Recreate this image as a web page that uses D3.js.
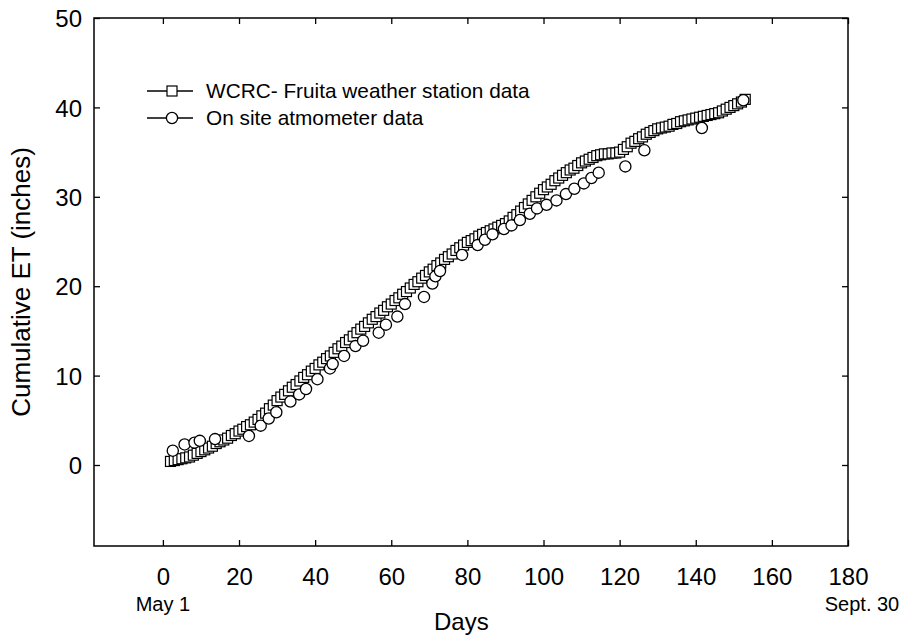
<!DOCTYPE html>
<html>
<head>
<meta charset="utf-8">
<script src="https://cdn.jsdelivr.net/npm/d3@7"></script>
<style>
  body { margin: 0; background: #fff; }
  text { font-family: Arial, "Liberation Sans", sans-serif; fill: #000; }
</style>
</head>
<body>
<div id="chart"></div>
<script>
// Chart size
const w = 901;
const h = 637;
const margin = { top: 18, right: 53, bottom: 91, left: 94 };

// WCRC - Fruita weather station, one value per day (cumulative inches)
const wcrcDays = [
  2, 3, 4, 5, 6, 7, 8, 9, 10, 11, 12, 13, 14, 15, 16, 17, 18, 19, 20,
  21, 22, 23, 24, 25, 26, 27, 28, 29, 30, 31, 32, 33, 34, 35, 36, 37, 38, 39, 40,
  41, 42, 43, 44, 45, 46, 47, 48, 49, 50, 51, 52, 53, 54, 55, 56, 57, 58, 59, 60,
  61, 62, 63, 64, 65, 66, 67, 68, 69, 70, 71, 72, 73, 74, 75, 76, 77, 78, 79, 80,
  81, 82, 83, 84, 85, 86, 87, 88, 89, 90, 91, 92, 93, 94, 95, 96, 97, 98, 99, 100,
  101, 102, 103, 104, 105, 106, 107, 108, 109, 110, 111, 112, 113, 114, 115, 116, 117, 118, 119, 120,
  121, 122, 123, 124, 125, 126, 127, 128, 129, 130, 131, 132, 133, 134, 135, 136, 137, 138, 139, 140,
  141, 142, 143, 144, 145, 146, 147, 148, 149, 150, 151, 152, 153
];
const wcrcET = [
  0.4, 0.5, 0.6, 0.7, 0.8, 0.9, 1.1, 1.3, 1.5, 1.7, 1.9, 2.1, 2.4, 2.6, 2.8, 3.0, 3.3, 3.5, 3.8,
  4.0, 4.3, 4.5, 4.8, 5.1, 5.5, 5.8, 6.3, 6.7, 7.2, 7.6, 7.9, 8.3, 8.7, 9.0, 9.4, 9.8, 10.1, 10.5, 10.8,
  11.2, 11.5, 11.9, 12.2, 12.6, 13.0, 13.3, 13.7, 14.0, 14.4, 14.8, 15.2, 15.5, 15.9, 16.3, 16.6, 17.0, 17.3, 17.7, 18.0,
  18.4, 18.7, 19.1, 19.4, 19.8, 20.2, 20.5, 20.9, 21.2, 21.6, 21.9, 22.3, 22.6, 23.0, 23.3, 23.6, 24.0, 24.3, 24.6, 24.9,
  25.1, 25.3, 25.6, 25.8, 26.0, 26.2, 26.4, 26.6, 26.8, 27.0, 27.3, 27.7, 28.0, 28.4, 28.8, 29.2, 29.6, 30.0, 30.4, 30.8,
  31.1, 31.4, 31.8, 32.1, 32.4, 32.7, 33.0, 33.2, 33.5, 33.8, 34.0, 34.2, 34.4, 34.6, 34.7, 34.8, 34.8, 34.9, 34.9, 35.0,
  35.3, 35.6, 36.0, 36.2, 36.5, 36.7, 37.0, 37.2, 37.4, 37.6, 37.7, 37.8, 37.9, 38.1, 38.2, 38.4, 38.5, 38.6, 38.7, 38.8,
  38.9, 39.0, 39.1, 39.2, 39.3, 39.4, 39.6, 39.8, 40.0, 40.2, 40.4, 40.6, 40.9
];

// On site atmometer readings
const atmoDays = [
  2.6, 5.7, 8.3, 9.7, 13.7, 22.6, 25.7, 27.8, 29.8, 33.5, 35.8, 37.6, 40.6, 43.9, 44.6,
  47.6, 50.6, 52.6, 56.7, 58.6, 61.6, 63.6, 68.6, 70.8, 71.6, 72.8, 78.6, 82.7, 84.6,
  86.6, 89.6, 91.6, 93.8, 96.4, 98.3, 100.8, 103.4, 105.9, 108.1, 110.6, 112.6, 114.5,
  121.5, 126.5, 141.6, 152.5
];
const atmoET = [
  1.6, 2.3, 2.5, 2.7, 2.9, 3.25, 4.4, 5.2, 5.9, 7.1, 7.9, 8.5, 9.6, 10.8, 11.3,
  12.2, 13.3, 13.9, 14.8, 15.7, 16.6, 18.0, 18.8, 20.3, 21.1, 21.7, 23.5, 24.6, 25.2,
  25.8, 26.4, 26.8, 27.4, 28.1, 28.7, 29.1, 29.6, 30.3, 30.9, 31.5, 32.1, 32.7,
  33.4, 35.2, 37.7, 40.8
];

// Axis ticks and labels
const xTicks = [0, 20, 40, 60, 80, 100, 120, 140, 160, 180];
const yTicks = [0, 10, 20, 30, 40, 50];
const seriesNames = ["WCRC- Fruita weather station data", "On site atmometer data"];

const iw = w - margin.left - margin.right;
const ih = h - margin.top - margin.bottom;

const svg = d3.select("#chart")
  .append("svg")
  .attr("width", w)
  .attr("height", h);

const g = svg.append("g")
  .attr("transform", `translate(${margin.left},${margin.top})`);

// Scales
const xScale = d3.scaleLinear().domain([-18.1, 180]).range([0, iw]);
const yScale = d3.scaleLinear().domain([-9.06, 50]).range([ih, 0]);

// Axes, ticks pointing inward on every side
const bottomAxis = g.append("g")
  .attr("transform", `translate(0,${ih})`)
  .call(d3.axisBottom(xScale).tickValues(xTicks).tickSize(-6).tickPadding(22));
const topAxis = g.append("g")
  .call(d3.axisTop(xScale).tickValues(xTicks).tickSize(-6).tickFormat(""));
const leftAxis = g.append("g")
  .call(d3.axisLeft(yScale).tickValues(yTicks).tickSize(-6).tickPadding(12));
const rightAxis = g.append("g")
  .attr("transform", `translate(${iw},0)`)
  .call(d3.axisRight(yScale).tickValues(yTicks).tickSize(-6).tickFormat(""));

[bottomAxis, topAxis, leftAxis, rightAxis].forEach(a => {
  a.select(".domain").remove();
  a.selectAll("line").attr("stroke", "#000").attr("stroke-width", 1.3);
});
bottomAxis.selectAll("text").attr("font-size", "24px").attr("font-family", "Arial, 'Liberation Sans', sans-serif");
leftAxis.selectAll("text").attr("font-size", "24px").attr("font-family", "Arial, 'Liberation Sans', sans-serif")
  .attr("dy", "0.36em");

// Frame
g.append("rect")
  .attr("width", iw)
  .attr("height", ih)
  .attr("fill", "none")
  .attr("stroke", "#000")
  .attr("stroke-width", 1.5);

// WCRC squares
const wcrc = wcrcDays.map((d, i) => ({ day: d, et: wcrcET[i] }));
g.selectAll("rect.sq")
  .data(wcrc)
  .enter()
  .append("rect")
  .attr("class", "sq")
  .attr("x", d => xScale(d.day) - 5)
  .attr("y", d => yScale(d.et) - 5)
  .attr("width", 10)
  .attr("height", 10)
  .attr("fill", "#fff")
  .attr("stroke", "#000")
  .attr("stroke-width", 1.2);

// Atmometer circles
const atmo = atmoDays.map((d, i) => ({ day: d, et: atmoET[i] }));
g.selectAll("circle.pt")
  .data(atmo)
  .enter()
  .append("circle")
  .attr("class", "pt")
  .attr("cx", d => xScale(d.day))
  .attr("cy", d => yScale(d.et))
  .attr("r", 5.6)
  .attr("fill", "#fff")
  .attr("stroke", "#000")
  .attr("stroke-width", 1.3);

// Legend
const legend = svg.append("g");
const rows = [{ y: 91, shape: "square" }, { y: 118, shape: "circle" }];
rows.forEach((r, i) => {
  legend.append("line")
    .attr("x1", 147).attr("x2", 193)
    .attr("y1", r.y).attr("y2", r.y)
    .attr("stroke", "#000").attr("stroke-width", 1.3);
  if (r.shape === "square") {
    legend.append("rect")
      .attr("x", 167).attr("y", r.y - 5)
      .attr("width", 10).attr("height", 10)
      .attr("fill", "#fff").attr("stroke", "#000").attr("stroke-width", 1.2);
  } else {
    legend.append("circle")
      .attr("cx", 172).attr("cy", r.y).attr("r", 5.6)
      .attr("fill", "#fff").attr("stroke", "#000").attr("stroke-width", 1.3);
  }
  legend.append("text")
    .attr("x", 206)
    .attr("y", r.y + 7)
    .attr("font-size", "20.8px")
    .text(seriesNames[i]);
});

// Axis titles
svg.append("text")
  .attr("transform", `translate(30,${margin.top + ih / 2}) rotate(-90)`)
  .attr("text-anchor", "middle")
  .attr("font-size", "26px")
  .text("Cumulative ET (inches)");

svg.append("text")
  .attr("x", margin.left + xScale(80) - 6)
  .attr("y", 630)
  .attr("text-anchor", "middle")
  .attr("font-size", "24px")
  .text("Days");

svg.append("text")
  .attr("x", margin.left + xScale(0))
  .attr("y", 611)
  .attr("text-anchor", "middle")
  .attr("font-size", "20px")
  .text("May 1");

svg.append("text")
  .attr("x", 862)
  .attr("y", 611)
  .attr("text-anchor", "middle")
  .attr("font-size", "20px")
  .text("Sept. 30");
</script>
</body>
</html>
